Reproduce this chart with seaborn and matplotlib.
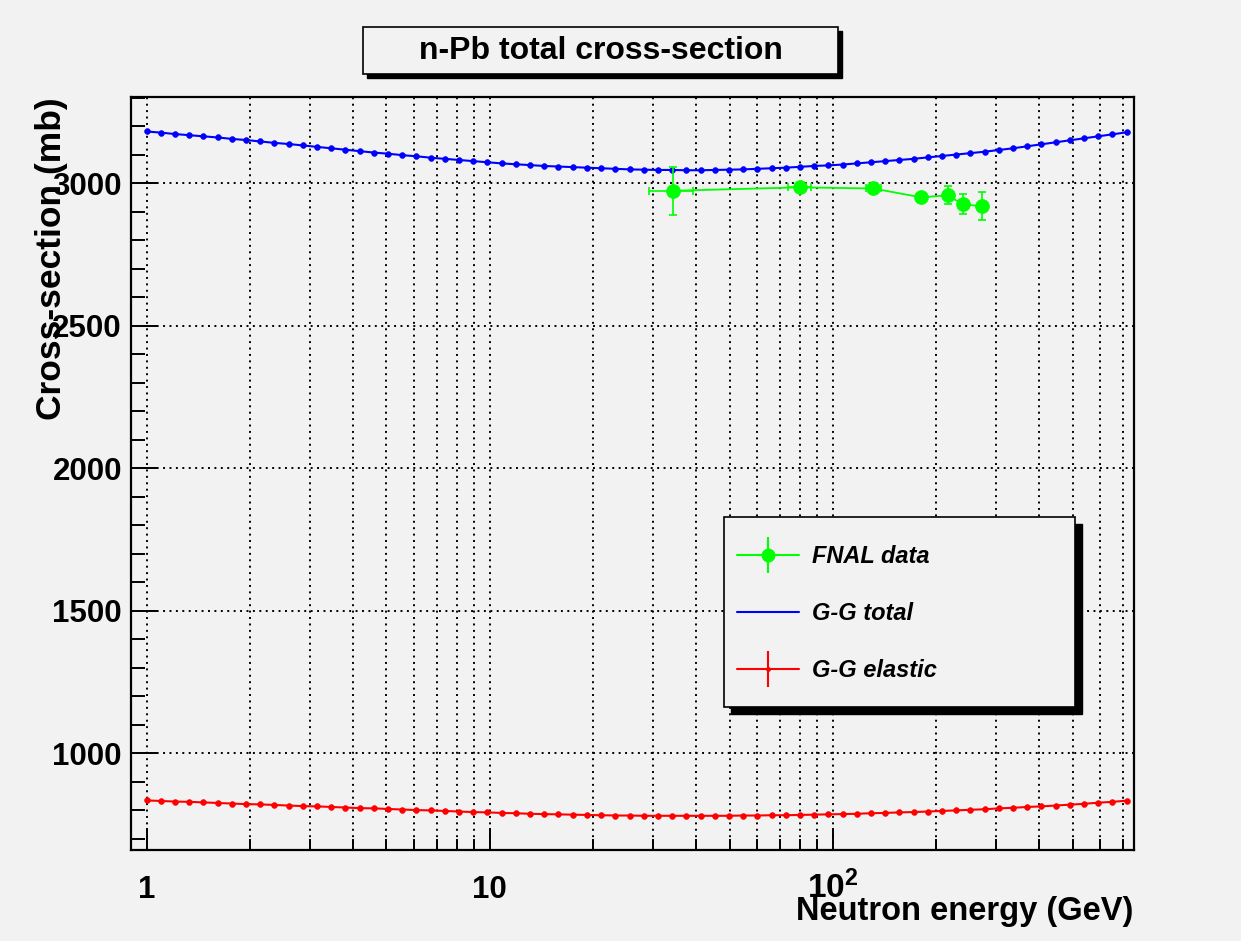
import numpy as np
import matplotlib
matplotlib.use("Agg")
import matplotlib.pyplot as plt
import seaborn as sns
from matplotlib.lines import Line2D
from matplotlib.patches import Rectangle
from matplotlib.ticker import FixedLocator, FixedFormatter, MultipleLocator, NullFormatter
from matplotlib.font_manager import FontProperties

# ---------------- data ----------------
energy = [1.0, 1.1, 1.21, 1.331, 1.4641, 1.6105, 1.7716, 1.9487, 2.1436, 2.3579,
          2.5937, 2.8531, 3.1384, 3.4523, 3.7975, 4.1772, 4.595, 5.0545, 5.5599, 6.1159,
          6.7275, 7.4002, 8.1403, 8.9543, 9.8497, 10.835, 11.918, 13.110, 14.421, 15.863,
          17.449, 19.194, 21.114, 23.225, 25.548, 28.102, 30.913, 34.004, 37.404, 41.145,
          45.259, 49.785, 54.764, 60.240, 66.264, 72.890, 80.180, 88.197, 97.017, 106.72,
          117.39, 129.13, 142.04, 156.25, 171.87, 189.06, 207.97, 228.76, 251.64, 276.80,
          304.48, 334.93, 368.42, 405.27, 445.79, 490.37, 539.41, 593.35, 652.68, 717.95]

gg_total = [3181, 3177, 3172, 3168, 3164, 3160, 3155, 3151, 3146, 3141,
            3137, 3132, 3127, 3122, 3117, 3112, 3107, 3103, 3098, 3094,
            3089, 3085, 3081, 3077, 3073, 3069, 3066, 3063, 3060, 3058,
            3056, 3054, 3052, 3050, 3048, 3047, 3046, 3046, 3045, 3045,
            3046, 3047, 3048, 3050, 3052, 3054, 3057, 3060, 3062, 3065,
            3069, 3073, 3077, 3081, 3085, 3090, 3095, 3100, 3105, 3110,
            3116, 3122, 3129, 3136, 3143, 3150, 3157, 3164, 3171, 3178]

gg_elastic = [834, 832, 830, 829, 827, 825, 823, 821, 820, 818,
              816, 814, 813, 811, 809, 807, 806, 804, 802, 800,
              799, 797, 795, 793, 792, 790, 789, 787, 786, 785,
              784, 783, 782, 781, 781, 780, 780, 780, 780, 780,
              780, 780, 781, 781, 782, 782, 783, 784, 785, 786,
              787, 789, 790, 792, 793, 795, 797, 799, 801, 803,
              806, 808, 811, 813, 816, 819, 822, 826, 829, 833]

fnal_energy = [34.1, 80.1, 131.3, 180.6, 216.0, 240.0, 273.0]
fnal_energy_err = [5.0, 6.0, 6.5, 0.0, 0.0, 0.0, 0.0]
fnal_sigma = [2973, 2985, 2981, 2950, 2957, 2925, 2919]
fnal_sigma_err = [85, 15, 12, 15, 32, 35, 48]

title_text = "n-Pb total cross-section"
x_title = "Neutron energy (GeV)"
y_title = "Cross-section (mb)"
legend_labels = ["FNAL data", "G-G total", "G-G elastic"]
x_major = [1, 10, 100]
x_major_labels = ["1", "10", r"$\mathbf{10^{2}}$"]
y_major = [1000, 1500, 2000, 2500, 3000]

# ---------------- style ----------------
sns.set_style("ticks")
BG = "#f2f2f2"
GREEN = "#00ff00"
BLUE = "#0000ff"
RED = "#ff0000"
plt.rcParams["font.family"] = ["Liberation Sans", "DejaVu Sans"]
plt.rcParams["font.weight"] = "bold"
plt.rcParams["text.color"] = "black"
plt.rcParams["axes.labelcolor"] = "black"
plt.rcParams["axes.edgecolor"] = "black"
plt.rcParams["xtick.color"] = "black"
plt.rcParams["ytick.color"] = "black"
plt.rcParams["xtick.labelcolor"] = "black"
plt.rcParams["ytick.labelcolor"] = "black"
plt.rcParams["mathtext.fontset"] = "custom"
plt.rcParams["mathtext.rm"] = "Liberation Sans:bold"
plt.rcParams["mathtext.bf"] = "Liberation Sans:bold"
plt.rcParams["mathtext.default"] = "bf"

W, H = 1241, 941
fig = plt.figure(figsize=(W / 100, H / 100), dpi=100, facecolor=BG)
ax = fig.add_axes([131 / W, 1 - 850 / H, (1134 - 131) / W, (850 - 97) / H])
ax.set_facecolor(BG)
ax.set_xscale("log")

# curves
sns.lineplot(x=energy, y=gg_total, ax=ax, color=BLUE, linewidth=1.5, marker="o",
             markersize=4.2, markeredgecolor=BLUE, markeredgewidth=0.4, legend=False, zorder=3)
sns.lineplot(x=energy, y=gg_elastic, ax=ax, color=RED, linewidth=1.5, marker="o",
             markersize=4.2, markeredgecolor=RED, markeredgewidth=0.4, legend=False, zorder=3)
# FNAL data
sns.lineplot(x=fnal_energy, y=fnal_sigma, ax=ax, color=GREEN, linewidth=1.3, marker="o",
             markersize=10, markeredgecolor=GREEN, markeredgewidth=0.5, legend=False, zorder=4)
ax.errorbar(fnal_energy, fnal_sigma, xerr=fnal_energy_err, yerr=fnal_sigma_err, fmt="none",
            ecolor=GREEN, elinewidth=1.2, capsize=3, capthick=1.2, zorder=4)

ax.set_xlim(0.9, 755)
ax.set_ylim(660, 3302)
ax.set_xlabel("")
ax.set_ylabel("")

# ticks
ax.xaxis.set_major_locator(FixedLocator(x_major))
ax.xaxis.set_major_formatter(FixedFormatter(x_major_labels))
minor_x = [m * d for d in (1, 10, 100) for m in range(2, 10) if m * d < 755]
ax.xaxis.set_minor_locator(FixedLocator(minor_x))
ax.xaxis.set_minor_formatter(NullFormatter())
ax.yaxis.set_major_locator(FixedLocator(y_major))
ax.yaxis.set_minor_locator(MultipleLocator(100))

ax.tick_params(axis="x", which="major", direction="in", length=16, width=1.4,
               labelsize=22.5, pad=34.5, top=False, colors="black")
ax.tick_params(axis="x", which="minor", direction="in", length=8, width=1.4, top=False,
               colors="black")
ax.tick_params(axis="y", which="major", direction="in", length=19, width=1.4,
               labelsize=22.5, pad=6.5, right=False, colors="black")
ax.tick_params(axis="y", which="minor", direction="in", length=10, width=1.4, right=False,
               colors="black")
for i, t in enumerate(ax.xaxis.get_major_ticks()):
    t.label1.set_verticalalignment("baseline")
    t.label1.set_fontweight("bold")
    if i == 2:
        t.label1.set_fontsize(24)
for t in ax.yaxis.get_major_ticks():
    t.label1.set_fontweight("bold")

for s in ax.spines.values():
    s.set_linewidth(1.6)
    s.set_color("black")
    s.set_visible(True)

ax.grid(which="both", axis="x", color="black", linestyle=(0, (1, 2.3)), linewidth=1.4)
ax.grid(which="major", axis="y", color="black", linestyle=(0, (1, 2.3)), linewidth=1.4)
ax.set_axisbelow(True)

# axis titles
fig.text(1133 / W, 1 - 920 / H, x_title, ha="right", va="baseline",
         fontsize=23.5, fontweight="bold", color="black")
fig.text(52 / W, 1 - 97 / H, y_title, ha="center", va="top", rotation=90,
         fontsize=25.5, fontweight="bold", color="black")

# title box with shadow
fig.add_artist(Rectangle((367 / W, 1 - 77.5 / H), (838 - 363) / W, (74 - 27) / H,
                         transform=fig.transFigure, facecolor="black", edgecolor="black",
                         zorder=6))
fig.add_artist(Rectangle((363 / W, 1 - 74 / H), (838 - 363) / W, (74 - 27) / H,
                         transform=fig.transFigure, facecolor=BG, edgecolor="black",
                         linewidth=1.2, zorder=6.1))
fig.text(600.5 / W, 1 - 51 / H, title_text, ha="center", va="center", fontsize=23,
         fontweight="bold", color="black", zorder=6.2)

# legend box with shadow
fig.add_artist(Rectangle((731 / W, 1 - 714 / H), (1075 - 724) / W, (707 - 517) / H,
                         transform=fig.transFigure, facecolor="black", edgecolor="black",
                         zorder=6))
fig.add_artist(Rectangle((724 / W, 1 - 707 / H), (1075 - 724) / W, (707 - 517) / H,
                         transform=fig.transFigure, facecolor=BG, edgecolor="black",
                         linewidth=1.2, zorder=6.1))

h_fnal = (Line2D([], [], color=GREEN, lw=1.5, marker="o", ms=9, mec=GREEN),
          Line2D([], [], color=GREEN, lw=0, marker="|", ms=26, mew=1.5))
h_total = Line2D([], [], color=BLUE, lw=1.5)
h_el = (Line2D([], [], color=RED, lw=1.5, marker="o", ms=2.5, mec=RED),
        Line2D([], [], color=RED, lw=0, marker="|", ms=26, mew=1.5))
leg = fig.legend([h_fnal, h_total, h_el], legend_labels, loc="center left",
                 bbox_to_anchor=(737 / W, 1 - 613.5 / H), frameon=False,
                 borderpad=0, borderaxespad=0, handlelength=2.62, handletextpad=0.55,
                 labelspacing=1.45, labelcolor="black",
                 prop=FontProperties(family="Liberation Sans", weight="bold",
                                     style="italic", size=17))
leg.set_zorder(7)

fig.savefig("out.png", dpi=100, facecolor=BG)
